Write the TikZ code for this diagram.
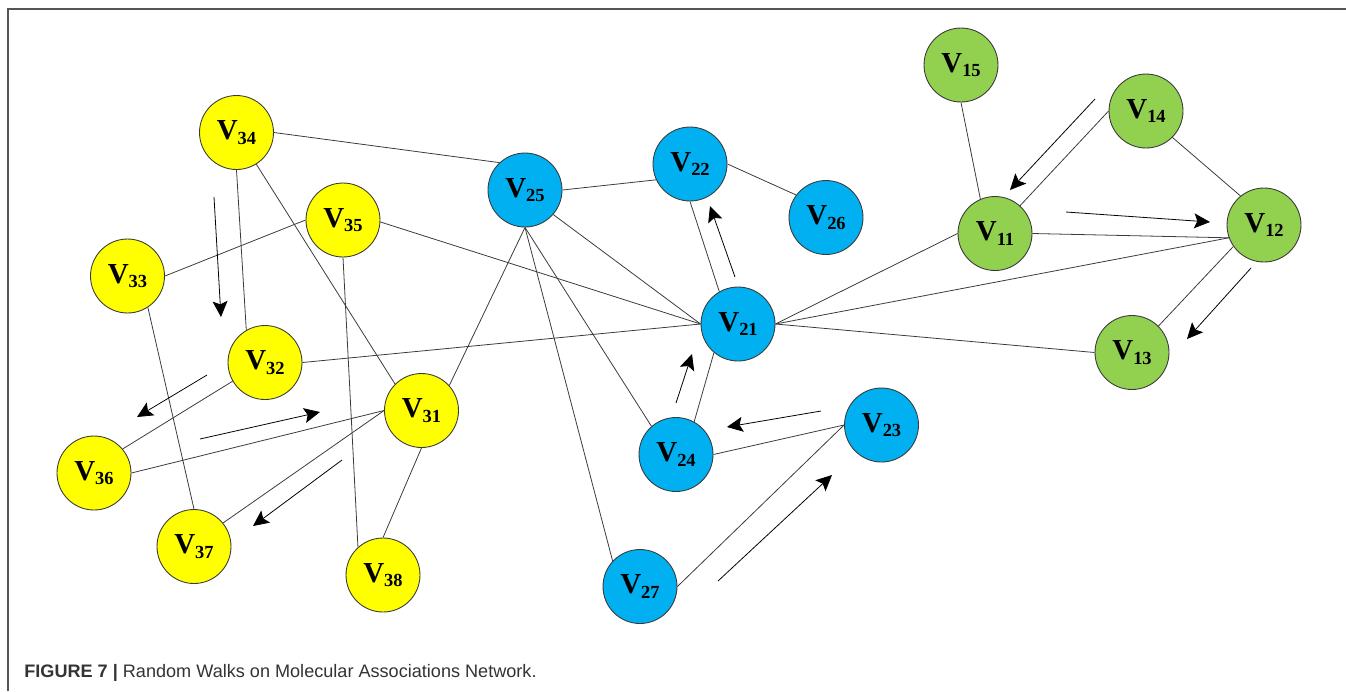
\documentclass[tikz,border=0pt]{standalone}
\usepackage{fontspec}
\setmainfont{Liberation Serif}
\newfontfamily\capfont{Liberation Sans}
\usetikzlibrary{arrows.meta}
\definecolor{vyellow}{HTML}{FFFF00}
\definecolor{vblue}{HTML}{00B0F0}
\definecolor{vgreen}{HTML}{92D050}
\definecolor{lineg}{HTML}{3A3A3A}
\definecolor{frameg}{HTML}{555555}
\definecolor{capg}{HTML}{333333}
\newcommand{\vlab}[1]{\fontsize{16.5}{16.5}\selectfont\bfseries V\raisebox{-2.6pt}{\fontsize{10.5}{10.5}\selectfont #1}}

\begin{document}
\begin{tikzpicture}[x=0.02cm, y=-0.02cm,
        vertex/.style={circle, draw=lineg, line width=0.5pt, minimum size=1.48cm, inner sep=0pt},
        yv/.style={vertex, fill=vyellow},
        bv/.style={vertex, fill=vblue},
        gv/.style={vertex, fill=vgreen},
        link/.style={draw=lineg, line width=0.45pt},
        walk/.style={-{Stealth[length=9pt, width=8.5pt, inset=1.8pt]}, line width=0.45pt, black}
    ]
    \useasboundingbox (0,0) rectangle (1346,691);

    % FRAME AND CAPTION
    \draw[frameg, line width=0.8pt] (8,691) |- (1346,9);
    \node[anchor=base west, inner sep=0pt, text=capg, font=\capfont\fontsize{10.3}{12}\selectfont] (caption) at (24,677)
        {\textbf{FIGURE 7 |} Random Walks on Molecular Associations Network.};

    % YELLOW GROUP
    \node[yv] (v34) at (236.5,132.5) {\vlab{34}};
    \node[yv] (v35) at (343,220) {\vlab{35}};
    \node[yv] (v33) at (127.5,276) {\vlab{33}};
    \node[yv] (v32) at (265,362.5) {\vlab{32}};
    \node[yv] (v31) at (421.5,410.5) {\vlab{31}};
    \node[yv] (v36) at (94,473) {\vlab{36}};
    \node[yv] (v37) at (194,546.5) {\vlab{37}};
    \node[yv] (v38) at (383,575) {\vlab{38}};

    % BLUE GROUP
    \node[bv] (v25) at (525,190) {\vlab{25}};
    \node[bv] (v22) at (690,164) {\vlab{22}};
    \node[bv] (v26) at (826,217.5) {\vlab{26}};
    \node[bv] (v21) at (738,324) {\vlab{21}};
    \node[bv] (v24) at (676,454.5) {\vlab{24}};
    \node[bv] (v23) at (881.5,425) {\vlab{23}};
    \node[bv] (v27) at (640,586.5) {\vlab{27}};

    % GREEN GROUP
    \node[gv] (v15) at (961,65) {\vlab{15}};
    \node[gv] (v14) at (1146,111) {\vlab{14}};
    \node[gv] (v11) at (995,233.5) {\vlab{11}};
    \node[gv] (v12) at (1264,225) {\vlab{12}};
    \node[gv] (v13) at (1132,352.5) {\vlab{13}};

    % Edges
    \draw[link] (v34.east) -- (v25.133);
    \draw[link] (v34.south) -- (v32.120);
    \draw[link] (v34.-58) -- (v31.135);
    \draw[link] (v35.west) -- (v33.east);
    \draw[link] (v35.-3) -- (v21.west);
    \draw[link] (v35.south) -- (v38.132);
    \draw[link] (v33.-57) -- (v37.north);
    \draw[link] (v32.east) -- (v21.west);
    \draw[link] (v32.210) -- (v36.40);
    \draw[link] (v31.west) -- (v36.east);
    \draw[link] (v31.west) -- (v37.39);
    \draw[link] (v31.south) -- (v38.north);
    \draw[link] (v31.42) -- (v25.south);
    \draw[link] (v25.east) -- (v22.205);
    \draw[link] (v25.-41) -- (v21.west);
    \draw[link] (v25.south) -- (v24.131);
    \draw[link] (v25.south) -- (v27.137);
    \draw[link] (v22.east) -- (v26.143);
    \draw[link] (v22.south) -- (v21.120);
    \draw[link] (v21.230) -- (v24.61);
    \draw[link] (v21.east) -- (v11.west);
    \draw[link] (v21.east) -- (v12.200);
    \draw[link] (v21.east) -- (v13.west);
    \draw[link] (v24.east) -- (v23.west);
    \draw[link] (v27.east) -- (v23.west);
    \draw[link] (v15.south) -- (v11.113);
    \draw[link] (v14.west) -- (v11.48);
    \draw[link] (v14.-45) -- (v12.129);
    \draw[link] (v11.east) -- (v12.200);
    \draw[link] (v12.215) -- (v13.45);

    % Walk arrows
    \coordinate (a1s) at (214,197);  \coordinate (a1e) at (221,317);
    \coordinate (a2s) at (207,375);  \coordinate (a2e) at (137,417);
    \coordinate (a3s) at (200,439);  \coordinate (a3e) at (320,412);
    \coordinate (a4s) at (342,460);  \coordinate (a4e) at (253,526);
    \coordinate (a5s) at (676,403);  \coordinate (a5e) at (692,354);
    \coordinate (a6s) at (821,411);  \coordinate (a6e) at (727,427);
    \coordinate (a7s) at (718,581);  \coordinate (a7e) at (832,475);
    \coordinate (a8s) at (735,277);  \coordinate (a8e) at (710,206);
    \coordinate (a9s) at (1095,99);  \coordinate (a9e) at (1010,190);
    \coordinate (a10s) at (1066,212); \coordinate (a10e) at (1210,222);
    \coordinate (a11s) at (1251,268); \coordinate (a11e) at (1187,339);
    \foreach \i in {1,...,11}
        \draw[walk] (a\i s) -- (a\i e);

\end{tikzpicture}
\end{document}
